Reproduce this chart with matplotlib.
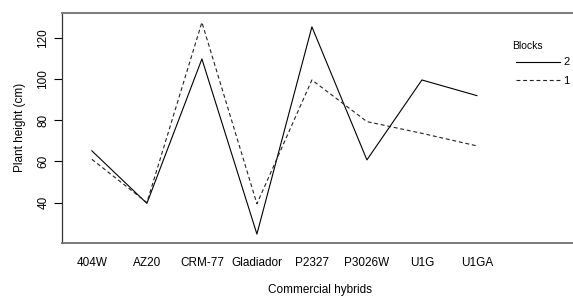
import numpy as np
import matplotlib.pyplot as plt

plt.rcParams['font.family'] = ['Liberation Sans', 'DejaVu Sans']

hybrids = ['404W', 'AZ20', 'CRM-77', 'Gladiador', 'P2327', 'P3026W', 'U1G', 'U1GA']
block2 = [65.1, 39.6, 109.7, 24.7, 125.3, 60.7, 99.5, 91.9]
block1 = [61.0, 40.0, 127.5, 39.4, 99.5, 79.3, 73.6, 67.5]

fig = plt.figure(figsize=(5.73, 2.96), dpi=100)
ax = fig.add_axes([0.108, 0.180, 0.90, 0.776])

x = np.arange(1, len(hybrids) + 1)
ax.plot(x, block2, color='black', lw=0.8, ls='-', label='2')
ax.plot(x, block1, color='#222222', lw=0.8, ls=(0, (3.5, 2.5)), label='1')

ax.set_xlim(0.4545, 9.83)
ax.set_ylim(20.5, 132)
ax.set_yticks([40, 60, 80, 100, 120])
ax.set_xticks(x)
ax.set_xticklabels(hybrids)
ax.tick_params(axis='x', length=0, pad=10, labelsize=8.5)
ax.tick_params(axis='y', length=6, width=0.8, pad=3, labelsize=8.5)
for lab in ax.get_yticklabels():
    lab.set_rotation(90)
    lab.set_va('center')

ax.spines['right'].set_visible(False)
ax.spines['left'].set_color('#333333')
ax.spines['left'].set_linewidth(0.9)
ax.spines['top'].set_color('#808080')
ax.spines['top'].set_linewidth(1.5)
ax.spines['bottom'].set_color('#707070')
ax.spines['bottom'].set_linewidth(1.3)

ax.set_xlabel('Commercial hybrids', fontsize=8.5, va='center')
ax.xaxis.set_label_coords(0.5, -0.205)
ax.set_ylabel('Plant height (cm)', fontsize=8.5, labelpad=8)

leg = ax.legend(loc='upper left', bbox_to_anchor=(0.872, 0.826),
                frameon=False, fontsize=8, handlelength=4.0,
                handletextpad=0.25, labelspacing=0.75, borderaxespad=0)
fig.text(512 / 573, 1 - 46 / 296, 'Blocks', fontsize=7.5, ha='left', va='center')

fig.savefig('out.png', dpi=100)
